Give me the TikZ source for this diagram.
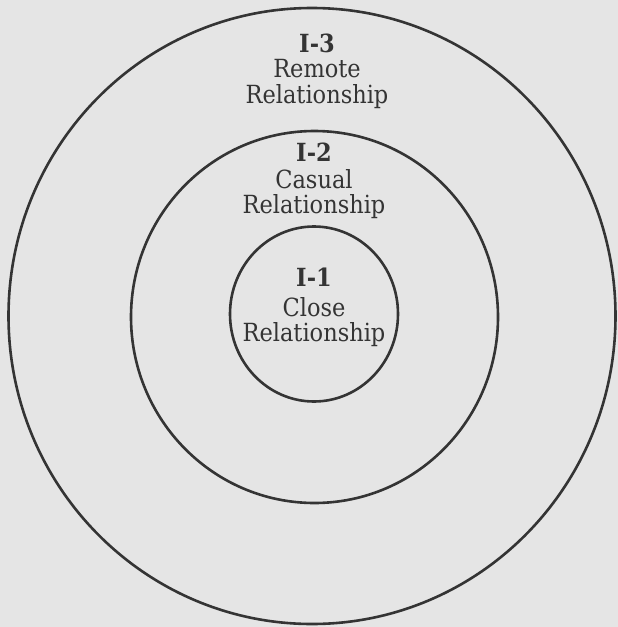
\documentclass[tikz,border=0pt]{standalone}
\usepackage{fontspec}
\setmainfont{DejaVu Serif Condensed}
\usepackage{xcolor}
\definecolor{paper}{RGB}{229,229,229}
\definecolor{ink}{RGB}{52,52,52}

\begin{document}
\begin{tikzpicture}[
  x=1pt,y=-1pt,
  ring/.style={draw=ink,line width=2.6pt},
  title/.style={anchor=base,inner sep=0pt,text=ink,font=\fontsize{25}{25}\selectfont\bfseries},
  lbl/.style={anchor=base,inner sep=0pt,text=ink,font=\fontsize{25}{25}\selectfont}
]
  \fill[paper] (0,0) rectangle (618,627);
  \useasboundingbox (0,0) rectangle (618,627);
  % the three levels
  \coordinate (outer) at (312,316);
  \coordinate (middle) at (314.5,317);
  \coordinate (inner) at (314,314);
  \draw[ring] (outer) ellipse [x radius=303.5,y radius=308];
  \draw[ring] (middle) ellipse [x radius=183.5,y radius=186];
  \draw[ring] (inner) ellipse [x radius=84,y radius=87.5];
  % labels
  \node[title] (i3) at (317,52) {I-3};
  \node[lbl] (remote) at (317,77) {Remote};
  \node[lbl] (rel3) at (317,103) {Relationship};
  \node[title] (i2) at (314,161) {I-2};
  \node[lbl] (casual) at (314,188) {Casual};
  \node[lbl] (rel2) at (314,213) {Relationship};
  \node[title] (i1) at (314,286) {I-1};
  \node[lbl] (close) at (314,316) {Close};
  \node[lbl] (rel1) at (314,341) {Relationship};
\end{tikzpicture}
\end{document}
